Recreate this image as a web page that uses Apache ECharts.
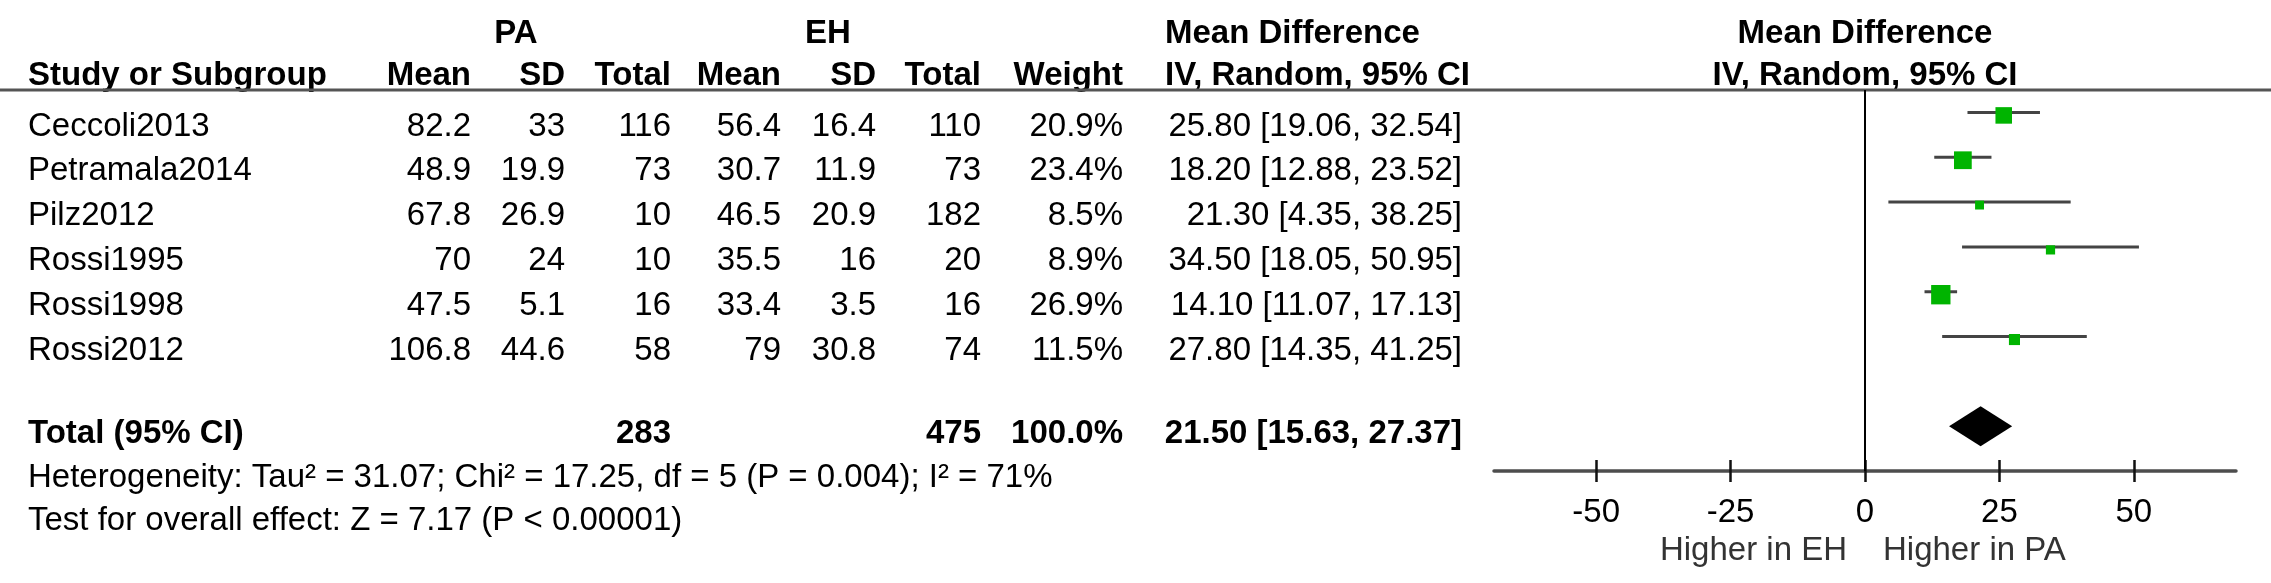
<!DOCTYPE html>
<html><head><meta charset="utf-8">
<script src="https://cdn.jsdelivr.net/npm/echarts@6/dist/echarts.min.js"></script>
<style>html,body{margin:0;padding:0;background:#fff}#c{width:2271px;height:583px}</style>
</head><body><div id="c"></div>
<script>
// ---- data ----
const studies = ['Ceccoli2013','Petramala2014','Pilz2012','Rossi1995','Rossi1998','Rossi2012'];
const paMean  = ['82.2','48.9','67.8','70','47.5','106.8'];
const paSD    = ['33','19.9','26.9','24','5.1','44.6'];
const paTotal = [116,73,10,10,16,58];
const ehMean  = ['56.4','30.7','46.5','35.5','33.4','79'];
const ehSD    = ['16.4','11.9','20.9','16','3.5','30.8'];
const ehTotal = [110,73,182,20,16,74];
const weights = [20.9,23.4,8.5,8.9,26.9,11.5];
const md      = [25.80,18.20,21.30,34.50,14.10,27.80];
const ciLow   = [19.06,12.88,4.35,18.05,11.07,14.35];
const ciHigh  = [32.54,23.52,38.25,50.95,17.13,41.25];
const totalPA = 283, totalEH = 475, totalWeight = 100.0;
const totalMD = 21.50, totalLow = 15.63, totalHigh = 27.37;
const totalRow = 7;
const xTicks = [-50,-25,0,25,50];
const heterogeneity = 'Heterogeneity: Tau\u00b2 = 31.07; Chi\u00b2 = 17.25, df = 5 (P = 0.004); I\u00b2 = 71%';
const overallEffect = 'Test for overall effect: Z = 7.17 (P < 0.00001)';
const favoursLeft = 'Higher in EH', favoursRight = 'Higher in PA';

// ---- chart ----
const FONT = '"Liberation Sans", Arial, Helvetica, sans-serif';
const FS = 33;
const chart = echarts.init(document.getElementById('c'), null, {renderer:'canvas'});
const studyData = studies.map((s,i)=>[i, ciLow[i], ciHigh[i], md[i], weights[i]]);

chart.setOption({
  animation:false,
  backgroundColor:'#fff',
  grid:{left:1494, right:35, top:90, bottom:112, containLabel:false},
  xAxis:[
    {type:'value', min:-69, max:69, position:'bottom',
     axisLine:{show:true, onZero:false, lineStyle:{color:'#4d4d4d', width:3.5}},
     axisTick:{show:true, length:11, customValues:xTicks, lineStyle:{color:'#111', width:2.5}},
     axisLabel:{show:true, customValues:xTicks, margin:25, color:'#000', fontSize:FS, fontFamily:FONT},
     splitLine:{show:false}},
    {type:'value', min:-69, max:69, position:'bottom',
     axisLine:{show:false, onZero:false},
     axisTick:{show:true, inside:true, length:11, customValues:xTicks, lineStyle:{color:'#111', width:2.5}},
     axisLabel:{show:false}, splitLine:{show:false}}
  ],
  yAxis:{type:'value', min:-0.5, max:8, inverse:true, show:false, splitLine:{show:false}},
  series:[
    {type:'line', name:'zero', data:[[0,-0.5],[0,8]], symbol:'none', silent:true,
     lineStyle:{color:'#000', width:2}},
    {type:'custom', name:'studies', data:studyData, encode:{x:[1,2,3], y:0},
     renderItem:function(params, api){
       const i = api.value(0), lo = api.value(1), hi = api.value(2), m = api.value(3), w = api.value(4);
       const p1 = api.coord([lo,i]), p2 = api.coord([hi,i]), pm = api.coord([m,i]);
       const s = 4.6*Math.sqrt(w) - 4.5;
       return {type:'group', children:[
         {type:'line', shape:{x1:p1[0], y1:p1[1], x2:p2[0], y2:p2[1]}, style:{stroke:'#444', lineWidth:3}},
         {type:'rect', shape:{x:pm[0]-s/2, y:pm[1]+3-s/2, width:s, height:s}, style:{fill:'#00b400'}}
       ]};
     }},
    {type:'custom', name:'total', data:[[totalRow, totalLow, totalHigh, totalMD]], encode:{x:[1,2,3], y:0},
     renderItem:function(params, api){
       const r = api.value(0);
       const a = api.coord([api.value(1), r]), b = api.coord([api.value(2), r]), c = api.coord([api.value(3), r]);
       const h = 20;
       return {type:'polygon', shape:{points:[[a[0],a[1]],[c[0],c[1]-h],[b[0],b[1]],[c[0],c[1]+h]]}, style:{fill:'#000'}};
     }}
  ]
});

// ---- table text, positioned from the same y scale ----
const rowY = i => chart.convertToPixel({yAxisIndex:0}, i);
const zeroX = chart.convertToPixel({xAxisIndex:0}, 0);
const els = [];
function txt(t, x, y, align, bold, color){
  els.push({type:'text', silent:true, style:{text:t, x:x, y:y, align:align, verticalAlign:'middle',
    fontSize:FS, fontFamily:FONT, fontWeight:bold?'bold':'normal', fill:color||'#000'}});
}
const col = {study:28, paMean:471, paSD:565, paTotal:671, ehMean:781, ehSD:876, ehTotal:981, weight:1123, mdLeft:1165, mdRight:1462};
// headers
const h1 = 34, h2 = 76;
txt('PA', 516, h1, 'center', true);
txt('EH', 828, h1, 'center', true);
txt('Mean Difference', col.mdLeft, h1, 'left', true);
txt('Mean Difference', zeroX, h1, 'center', true);
txt('Study or Subgroup', col.study, h2, 'left', true);
txt('Mean', col.paMean, h2, 'right', true);
txt('SD', col.paSD, h2, 'right', true);
txt('Total', col.paTotal, h2, 'right', true);
txt('Mean', col.ehMean, h2, 'right', true);
txt('SD', col.ehSD, h2, 'right', true);
txt('Total', col.ehTotal, h2, 'right', true);
txt('Weight', col.weight, h2, 'right', true);
txt('IV, Random, 95% CI', col.mdLeft, h2, 'left', true);
txt('IV, Random, 95% CI', zeroX, h2, 'center', true);
// header rule
els.push({type:'line', silent:true, shape:{x1:0, y1:90, x2:2271, y2:90}, style:{stroke:'#555', lineWidth:3}});
// study rows
studies.forEach((s,i)=>{
  const y = rowY(i) + 14;
  txt(s, col.study, y, 'left');
  txt(paMean[i], col.paMean, y, 'right');
  txt(paSD[i], col.paSD, y, 'right');
  txt(String(paTotal[i]), col.paTotal, y, 'right');
  txt(ehMean[i], col.ehMean, y, 'right');
  txt(ehSD[i], col.ehSD, y, 'right');
  txt(String(ehTotal[i]), col.ehTotal, y, 'right');
  txt(weights[i].toFixed(1)+'%', col.weight, y, 'right');
  txt(md[i].toFixed(2)+' ['+ciLow[i].toFixed(2)+', '+ciHigh[i].toFixed(2)+']', col.mdRight, y, 'right');
});
// total row
const ty = rowY(totalRow) + 8;
txt('Total (95% CI)', col.study, ty, 'left', true);
txt(String(totalPA), col.paTotal, ty, 'right', true);
txt(String(totalEH), col.ehTotal, ty, 'right', true);
txt(totalWeight.toFixed(1)+'%', col.weight, ty, 'right', true);
txt(totalMD.toFixed(2)+' ['+totalLow.toFixed(2)+', '+totalHigh.toFixed(2)+']', col.mdRight, ty, 'right', true);
txt(heterogeneity, col.study, 478, 'left');
txt(overallEffect, col.study, 521, 'left');
// favours labels
txt(favoursLeft, zeroX - 18, 551, 'right', false, '#333');
txt(favoursRight, zeroX + 18, 551, 'left', false, '#333');

chart.setOption({graphic:{elements:els}});
</script>
</body></html>
